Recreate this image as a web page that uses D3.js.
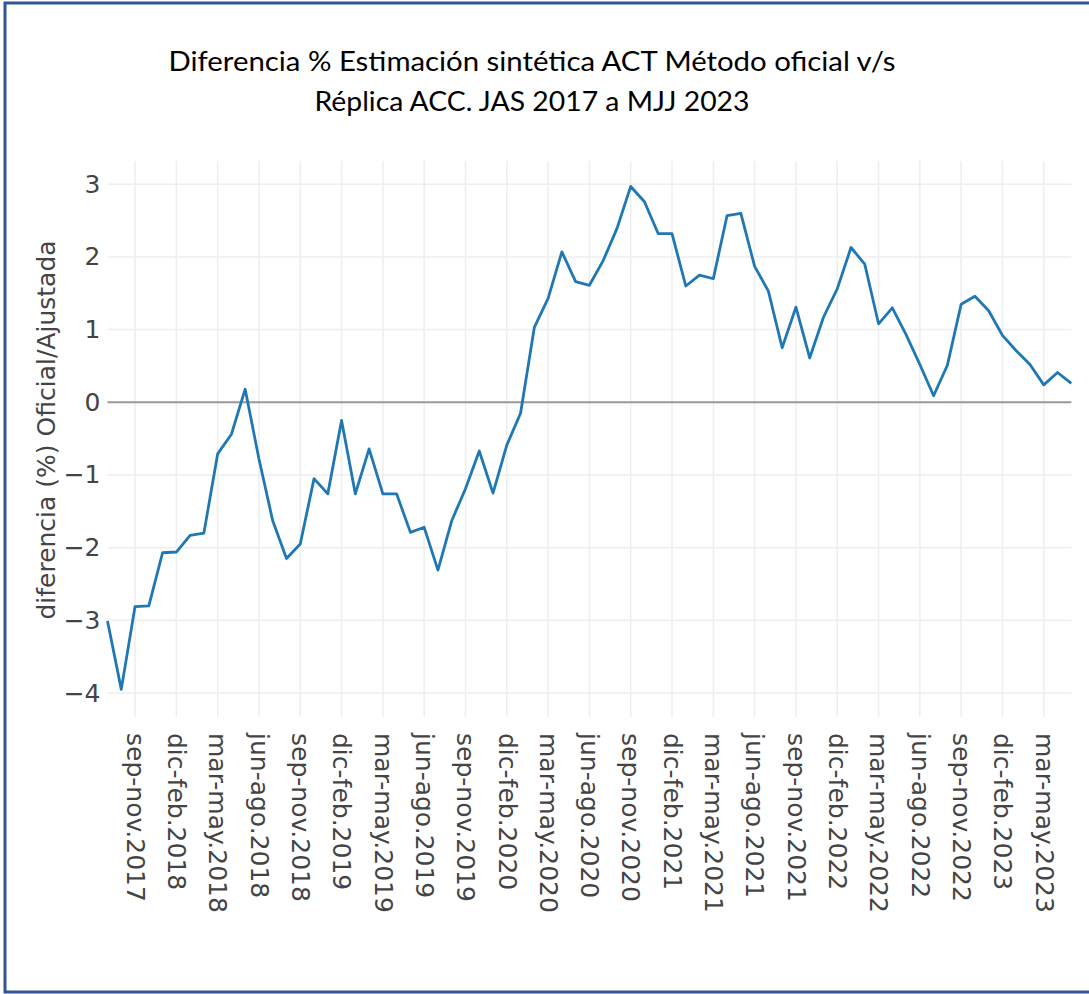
<!DOCTYPE html>
<html>
<head>
<meta charset="utf-8">
<script src="https://cdn.jsdelivr.net/npm/d3@7"></script>
<style>
  html, body { margin: 0; padding: 0; background: #fff; }
  svg { display: block; }
</style>
</head>
<body>
<svg id="chart" width="1089" height="994"></svg>
<script>
const titleLines = ["Diferencia % Estimación sintética ACT Método oficial v/s", "Réplica ACC. JAS 2017 a MJJ 2023"];
const yTitle = "diferencia (%) Oficial/Ajustada";

const categories = [
  "jul-sep.2017","ago-oct.2017","sep-nov.2017","oct-dic.2017","nov-ene.2018","dic-feb.2018",
  "ene-mar.2018","feb-abr.2018","mar-may.2018","abr-jun.2018","may-jul.2018","jun-ago.2018",
  "jul-sep.2018","ago-oct.2018","sep-nov.2018","oct-dic.2018","nov-ene.2019","dic-feb.2019",
  "ene-mar.2019","feb-abr.2019","mar-may.2019","abr-jun.2019","may-jul.2019","jun-ago.2019",
  "jul-sep.2019","ago-oct.2019","sep-nov.2019","oct-dic.2019","nov-ene.2020","dic-feb.2020",
  "ene-mar.2020","feb-abr.2020","mar-may.2020","abr-jun.2020","may-jul.2020","jun-ago.2020",
  "jul-sep.2020","ago-oct.2020","sep-nov.2020","oct-dic.2020","nov-ene.2021","dic-feb.2021",
  "ene-mar.2021","feb-abr.2021","mar-may.2021","abr-jun.2021","may-jul.2021","jun-ago.2021",
  "jul-sep.2021","ago-oct.2021","sep-nov.2021","oct-dic.2021","nov-ene.2022","dic-feb.2022",
  "ene-mar.2022","feb-abr.2022","mar-may.2022","abr-jun.2022","may-jul.2022","jun-ago.2022",
  "jul-sep.2022","ago-oct.2022","sep-nov.2022","oct-dic.2022","nov-ene.2023","dic-feb.2023",
  "ene-mar.2023","feb-abr.2023","mar-may.2023","abr-jun.2023","may-jul.2023"
];

const values = [
  -3.01, -3.95, -2.81, -2.80, -2.07, -2.06, -1.83, -1.80, -0.71, -0.44,
   0.18, -0.78, -1.63, -2.15, -1.95, -1.05, -1.26, -0.25, -1.26, -0.64,
  -1.26, -1.26, -1.79, -1.72, -2.31, -1.63, -1.19, -0.67, -1.25, -0.59,
  -0.15,  1.03,  1.43,  2.07,  1.66,  1.61,  1.95,  2.39,  2.97,  2.76,
   2.32,  2.32,  1.60,  1.75,  1.70,  2.57,  2.60,  1.87,  1.53,  0.75,
   1.31,  0.61,  1.17,  1.56,  2.13,  1.90,  1.08,  1.30,  0.93,  0.52,
   0.09,  0.51,  1.35,  1.46,  1.26,  0.92,  0.71,  0.52,  0.24,  0.41,
   0.26
];

const xTickLabels = [
  "sep-nov.2017","dic-feb.2018","mar-may.2018","jun-ago.2018","sep-nov.2018","dic-feb.2019",
  "mar-may.2019","jun-ago.2019","sep-nov.2019","dic-feb.2020","mar-may.2020","jun-ago.2020",
  "sep-nov.2020","dic-feb.2021","mar-may.2021","jun-ago.2021","sep-nov.2021","dic-feb.2022",
  "mar-may.2022","jun-ago.2022","sep-nov.2022","dic-feb.2023","mar-may.2023"
];
const yTickValues = [-4, -3, -2, -1, 0, 1, 2, 3];
const yDomain = [-4.33, 3.32];

const data = categories.map((c, i) => ({ c, v: values[i] }));

const svg = d3.select("#chart");
const plot = { left: 107.5, right: 1071.3, top: 161, bottom: 717 };
const axisFont = "'DejaVu Sans', Verdana, sans-serif";

// frame
svg.append("rect")
  .attr("x", 5).attr("y", 3).attr("width", 1200).attr("height", 989)
  .attr("fill", "none").attr("stroke", "#2f5597").attr("stroke-width", 3);

const x = d3.scalePoint().domain(categories).range([plot.left, plot.right]).padding(0);
const y = d3.scaleLinear().domain(yDomain).range([plot.bottom, plot.top]);

// gridlines
const grid = svg.append("g");
grid.selectAll("line.v").data(xTickLabels).join("line")
  .attr("x1", d => x(d)).attr("x2", d => x(d))
  .attr("y1", plot.top).attr("y2", plot.bottom)
  .attr("stroke", "#eeeeee").attr("stroke-width", 1.5);
grid.selectAll("line.h").data(yTickValues.filter(d => d !== 0)).join("line")
  .attr("x1", plot.left).attr("x2", plot.right)
  .attr("y1", d => y(d)).attr("y2", d => y(d))
  .attr("stroke", "#eeeeee").attr("stroke-width", 1.5);

// zero line
svg.append("line")
  .attr("x1", plot.left).attr("x2", plot.right)
  .attr("y1", y(0)).attr("y2", y(0))
  .attr("stroke", "#999999").attr("stroke-width", 2);

// y axis
const yAxis = svg.append("g")
  .attr("transform", `translate(${plot.left - 7},0)`)
  .call(d3.axisLeft(y).tickValues(yTickValues).tickSize(0).tickPadding(0).tickFormat(d3.format("d")));
yAxis.select(".domain").remove();
yAxis.attr("font-family", axisFont).attr("font-size", 25);
yAxis.selectAll("text").attr("fill", "#444");

// x axis
const xAxis = svg.append("g")
  .attr("transform", `translate(0,${plot.bottom})`)
  .call(d3.axisBottom(x).tickValues(xTickLabels).tickSize(0));
xAxis.select(".domain").remove();
xAxis.attr("font-family", axisFont).attr("font-size", 25);
xAxis.selectAll("text")
  .attr("fill", "#444")
  .attr("transform", "rotate(90)")
  .attr("text-anchor", "start")
  .attr("x", 16).attr("y", 0).attr("dy", "0.35em");

// y title
svg.append("text")
  .attr("transform", "translate(46,430) rotate(-90)")
  .attr("text-anchor", "middle")
  .attr("dy", "0.35em")
  .attr("font-family", axisFont).attr("font-size", 25).attr("fill", "#444")
  .text(yTitle);

// line
const line = d3.line().x(d => x(d.c)).y(d => y(d.v));
svg.append("path").datum(data)
  .attr("d", line)
  .attr("fill", "none").attr("stroke", "#1f77b4").attr("stroke-width", 2.8)
  .attr("stroke-linejoin", "round");

// title
const titleFont = "Lato, 'Open Sans', sans-serif";
const titleBaselines = [71, 111];
const titleWidths = [727, 435];
svg.append("g").selectAll("text").data(titleLines).join("text")
  .attr("x", 532).attr("y", (d, i) => titleBaselines[i])
  .attr("text-anchor", "middle")
  .attr("font-family", titleFont).attr("font-size", 26).attr("fill", "#000")
  .attr("textLength", (d, i) => titleWidths[i])
  .attr("lengthAdjust", "spacingAndGlyphs")
  .text(d => d);
</script>
</body>
</html>
